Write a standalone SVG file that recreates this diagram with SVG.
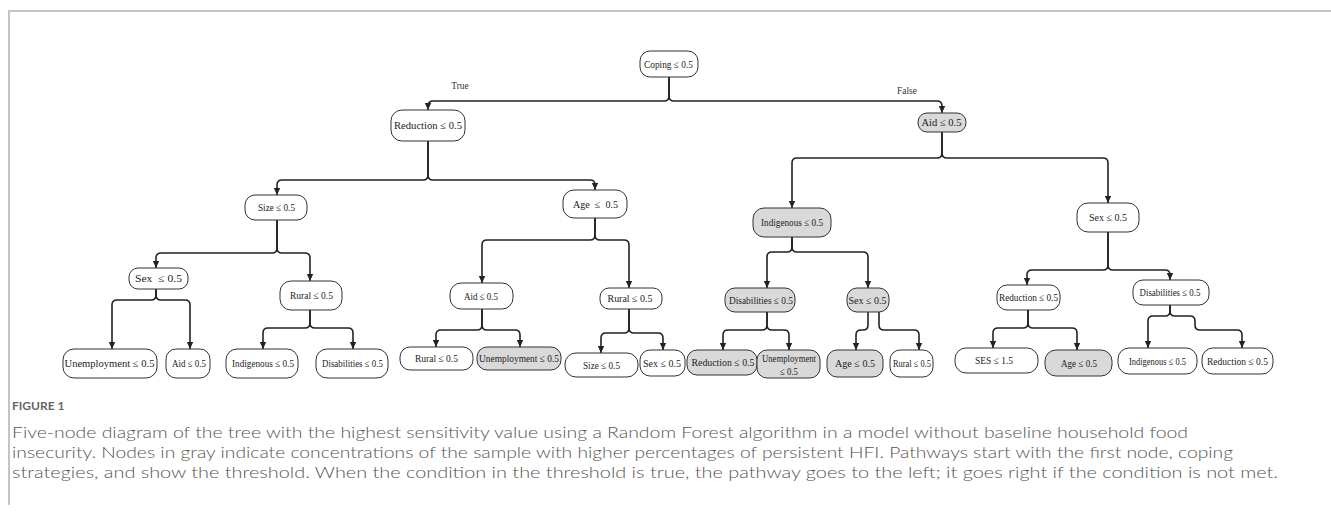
<svg xmlns="http://www.w3.org/2000/svg" width="1331" height="516" viewBox="0 0 1331 516">
<style>
.n rect{fill:#fff;stroke:#333;stroke-width:1}
.n.g rect{fill:#d9d9d9}
.n text{font-family:"Liberation Serif","Times New Roman",serif;font-size:10.5px;fill:#222;text-anchor:middle;dominant-baseline:central}
.c path{fill:none;stroke:#222;stroke-width:1.6;marker-end:url(#ah)}
.lbl{font-family:"Liberation Serif","Times New Roman",serif;font-size:9.5px;fill:#333;text-anchor:middle}
.cap{font-family:Lato,"Open Sans",sans-serif;font-size:16.5px;fill:#555;font-weight:300}
.fig{font-family:Lato,"Open Sans",sans-serif;font-size:12px;fill:#666;font-weight:700}
</style>
<defs>
<marker id="ah" markerUnits="userSpaceOnUse" markerWidth="8" markerHeight="8" viewBox="0 0 8 8" refX="7" refY="4" orient="auto">
<path d="M0,0.8 L7,4 L0,7.2 Z" fill="#222"/>
</marker>
</defs>
<rect width="1331" height="516" fill="#fff"/>
<path d="M9,505 V11 H1331" fill="none" stroke="#c4c4c4" stroke-width="2"/>

<g class="c" id="connectors">
<path d="M669,77 V96 Q669,101 664,101 H433 Q428,101 428,106 V110"/>
<path d="M669,77 V96 Q669,101 674,101 H937 Q942,101 942,106 V113"/>
<path d="M428,141 V175 Q428,180 423,180 H282 Q277,180 277,185 V195"/>
<path d="M428,141 V175 Q428,180 433,180 H590 Q595,180 595,185 V190"/>
<path d="M942,132 V153 Q942,158 937,158 H797 Q792,158 792,163 V208"/>
<path d="M942,132 V153 Q942,158 947,158 H1103 Q1108,158 1108,163 V203"/>
<path d="M277,220 V248 Q277,253 272,253 H161 Q156,253 156,258 V268"/>
<path d="M277,220 V248 Q277,253 282,253 H305 Q310,253 310,258 V281"/>
<path d="M595,218 V235 Q595,240 590,240 H487 Q482,240 482,245 V283"/>
<path d="M595,218 V235 Q595,240 600,240 H624 Q629,240 629,245 V288"/>
<path d="M792,237 V247 Q792,252 787,252 H772 Q767,252 767,257 V288"/>
<path d="M792,237 V247 Q792,252 797,252 H863 Q868,252 868,257 V288"/>
<path d="M1108,232 V265 Q1108,270 1103,270 H1032 Q1027,270 1027,275 V285"/>
<path d="M1108,232 V265 Q1108,270 1113,270 H1165 Q1170,270 1170,275 V280"/>
<path d="M156,289 V295 Q156,300 151,300 H117 Q112,300 112,305 V349"/>
<path d="M156,289 V295 Q156,300 161,300 H185 Q190,300 190,305 V349"/>
<path d="M310,310 V323 Q310,328 305,328 H268 Q263,328 263,333 V349"/>
<path d="M310,310 V323 Q310,328 315,328 H348 Q353,328 353,333 V349"/>
<path d="M482,309 V325 Q482,330 477,330 H441 Q436,330 436,335 V347"/>
<path d="M482,309 V325 Q482,330 487,330 H515 Q520,330 520,335 V347"/>
<path d="M629,309 V328 Q629,333 624,333 H606 Q601,333 601,338 V353"/>
<path d="M629,309 V328 Q629,333 634,333 H658 Q663,333 663,338 V350"/>
<path d="M767,312 V325 Q767,330 762,330 H728 Q723,330 723,335 V350"/>
<path d="M767,312 V325 Q767,330 772,330 H784 Q789,330 789,335 V350"/>
<path d="M868,312 V325 Q868,330 863,330 H861 Q856,330 856,335 V350"/>
<path d="M879,312 V325 Q879,330 884,330 H914 Q919,330 919,335 V350"/>
<path d="M1028,310 V323 Q1028,328 1023,328 H998 Q993,328 993,333 V348"/>
<path d="M1028,310 V323 Q1028,328 1033,328 H1072 Q1077,328 1077,333 V350"/>
<path d="M1170,305 V311 Q1170,316 1165,316 H1153 Q1148,316 1148,321 V348"/>
<path d="M1170,305 V311 Q1170,316 1175,316 H1190 Q1195,316 1195,321 V325 Q1195,330 1200,330 H1237 Q1242,330 1242,335 V348"/>
</g>

<text class="lbl" x="460" y="89">True</text>
<text class="lbl" x="907" y="94">False</text>

<g class="n" id="n-coping"><rect x="640" y="51" width="58" height="26" rx="10"/><text x="668.5" y="64" textLength="49" lengthAdjust="spacingAndGlyphs">Coping ≤ 0.5</text></g>
<g class="n" id="n-reduction1"><rect x="391" y="110" width="74" height="31" rx="11"/><text x="428" y="125.5" textLength="68" lengthAdjust="spacingAndGlyphs">Reduction ≤ 0.5</text></g>
<g class="n g" id="n-aid1"><rect x="918" y="113" width="48" height="19" rx="9"/><text x="941.5" y="122.5" textLength="40" lengthAdjust="spacingAndGlyphs">Aid ≤ 0.5</text></g>
<g class="n" id="n-size"><rect x="245" y="195" width="62" height="25" rx="10"/><text x="276.5" y="207.5" textLength="37" lengthAdjust="spacingAndGlyphs">Size ≤ 0.5</text></g>
<g class="n" id="n-age"><rect x="563" y="190" width="64" height="28" rx="11"/><text x="595.5" y="204" xml:space="preserve" textLength="45" lengthAdjust="spacingAndGlyphs">Age  ≤  0.5</text></g>
<g class="n g" id="n-indigenous1"><rect x="753" y="208" width="78" height="29" rx="11"/><text x="792" y="222.5" textLength="62" lengthAdjust="spacingAndGlyphs">Indigenous ≤ 0.5</text></g>
<g class="n" id="n-sex1"><rect x="1077" y="203" width="62" height="29" rx="11"/><text x="1108" y="217.5" textLength="38" lengthAdjust="spacingAndGlyphs">Sex ≤ 0.5</text></g>

<g class="n" id="n-sex2"><rect x="129" y="268" width="59" height="21" rx="9"/><text x="158.5" y="278.5" xml:space="preserve" textLength="47" lengthAdjust="spacingAndGlyphs">Sex  ≤ 0.5</text></g>
<g class="n" id="n-rural1"><rect x="280" y="281" width="62" height="29" rx="11"/><text x="311.5" y="295.5" textLength="43" lengthAdjust="spacingAndGlyphs">Rural ≤ 0.5</text></g>
<g class="n" id="n-aid2"><rect x="450" y="283" width="63" height="26" rx="11"/><text x="481" y="296" textLength="34" lengthAdjust="spacingAndGlyphs">Aid ≤ 0.5</text></g>
<g class="n" id="n-rural2"><rect x="600" y="288" width="62" height="21" rx="9"/><text x="630" y="298.5" textLength="45" lengthAdjust="spacingAndGlyphs">Rural ≤ 0.5</text></g>
<g class="n g" id="n-disabilities1"><rect x="725" y="288" width="70" height="24" rx="10"/><text x="761" y="300" textLength="64" lengthAdjust="spacingAndGlyphs">Disabilities ≤ 0.5</text></g>
<g class="n g" id="n-sex3"><rect x="847" y="288" width="42" height="24" rx="10"/><text x="867.5" y="300" textLength="38" lengthAdjust="spacingAndGlyphs">Sex ≤ 0.5</text></g>
<g class="n" id="n-reduction2"><rect x="997" y="285" width="63" height="25" rx="10"/><text x="1028.5" y="297.5" textLength="59" lengthAdjust="spacingAndGlyphs">Reduction ≤ 0.5</text></g>
<g class="n" id="n-disabilities2"><rect x="1133" y="280" width="76" height="25" rx="10"/><text x="1170" y="292.5" textLength="61" lengthAdjust="spacingAndGlyphs">Disabilities ≤ 0.5</text></g>

<g class="n" id="n-l1"><rect x="63" y="349" width="94" height="29" rx="11"/><text x="109.5" y="363.5" textLength="90" lengthAdjust="spacingAndGlyphs">Unemployment ≤ 0.5</text></g>
<g class="n" id="n-l2"><rect x="166" y="349" width="44" height="29" rx="10"/><text x="189" y="363.5" textLength="34" lengthAdjust="spacingAndGlyphs">Aid ≤ 0.5</text></g>
<g class="n" id="n-l3"><rect x="226" y="349" width="72" height="29" rx="11"/><text x="263" y="363.5" textLength="62" lengthAdjust="spacingAndGlyphs">Indigenous ≤ 0.5</text></g>
<g class="n" id="n-l4"><rect x="316" y="349" width="72" height="29" rx="11"/><text x="352.5" y="363.5" textLength="61" lengthAdjust="spacingAndGlyphs">Disabilities ≤ 0.5</text></g>
<g class="n" id="n-l5"><rect x="400" y="347" width="73" height="23" rx="10"/><text x="436.5" y="358.5" textLength="43" lengthAdjust="spacingAndGlyphs">Rural ≤ 0.5</text></g>
<g class="n g" id="n-l6"><rect x="477" y="347" width="84" height="23" rx="10"/><text x="519" y="358.5" textLength="80" lengthAdjust="spacingAndGlyphs">Unemployment ≤ 0.5</text></g>
<g class="n" id="n-l7"><rect x="565" y="353" width="73" height="24" rx="11"/><text x="601.5" y="365" textLength="37" lengthAdjust="spacingAndGlyphs">Size ≤ 0.5</text></g>
<g class="n" id="n-l8"><rect x="640" y="350" width="45" height="26" rx="10"/><text x="662" y="363" textLength="38" lengthAdjust="spacingAndGlyphs">Sex ≤ 0.5</text></g>
<g class="n g" id="n-l9"><rect x="687" y="350" width="70" height="25" rx="10"/><text x="723" y="362.5" textLength="63" lengthAdjust="spacingAndGlyphs">Reduction ≤ 0.5</text></g>
<g class="n g" id="n-l10"><rect x="757" y="350" width="63" height="28" rx="10"/><text x="789" y="358" textLength="54" lengthAdjust="spacingAndGlyphs">Unemployment</text><text x="789" y="371" textLength="18" lengthAdjust="spacingAndGlyphs">≤ 0.5</text></g>
<g class="n g" id="n-l11"><rect x="827" y="350" width="56" height="27" rx="10"/><text x="855" y="363.5" textLength="40" lengthAdjust="spacingAndGlyphs">Age ≤ 0.5</text></g>
<g class="n" id="n-l12"><rect x="890" y="350" width="43" height="27" rx="10"/><text x="912" y="363.5" textLength="38" lengthAdjust="spacingAndGlyphs">Rural ≤ 0.5</text></g>
<g class="n" id="n-l13"><rect x="955" y="348" width="83" height="25" rx="11"/><text x="994" y="360.5" textLength="38" lengthAdjust="spacingAndGlyphs">SES ≤ 1.5</text></g>
<g class="n g" id="n-l14"><rect x="1045" y="350" width="67" height="26" rx="11"/><text x="1079" y="363" textLength="36" lengthAdjust="spacingAndGlyphs">Age ≤ 0.5</text></g>
<g class="n" id="n-l15"><rect x="1118" y="348" width="79" height="26" rx="11"/><text x="1157.5" y="361" textLength="57" lengthAdjust="spacingAndGlyphs">Indigenous ≤ 0.5</text></g>
<g class="n" id="n-l16"><rect x="1202" y="348" width="71" height="26" rx="11"/><text x="1237.5" y="361" textLength="61" lengthAdjust="spacingAndGlyphs">Reduction ≤ 0.5</text></g>

<text class="fig" x="12" y="410">FIGURE 1</text>
<text class="cap" x="12" y="438" textLength="1176" lengthAdjust="spacingAndGlyphs">Five-node diagram of the tree with the highest sensitivity value using a Random Forest algorithm in a model without baseline household food</text>
<text class="cap" x="12" y="458" textLength="1221" lengthAdjust="spacingAndGlyphs">insecurity. Nodes in gray indicate concentrations of the sample with higher percentages of persistent HFI. Pathways start with the first node, coping</text>
<text class="cap" x="12" y="478" textLength="1266" lengthAdjust="spacingAndGlyphs">strategies, and show the threshold. When the condition in the threshold is true, the pathway goes to the left; it goes right if the condition is not met.</text>
</svg>
